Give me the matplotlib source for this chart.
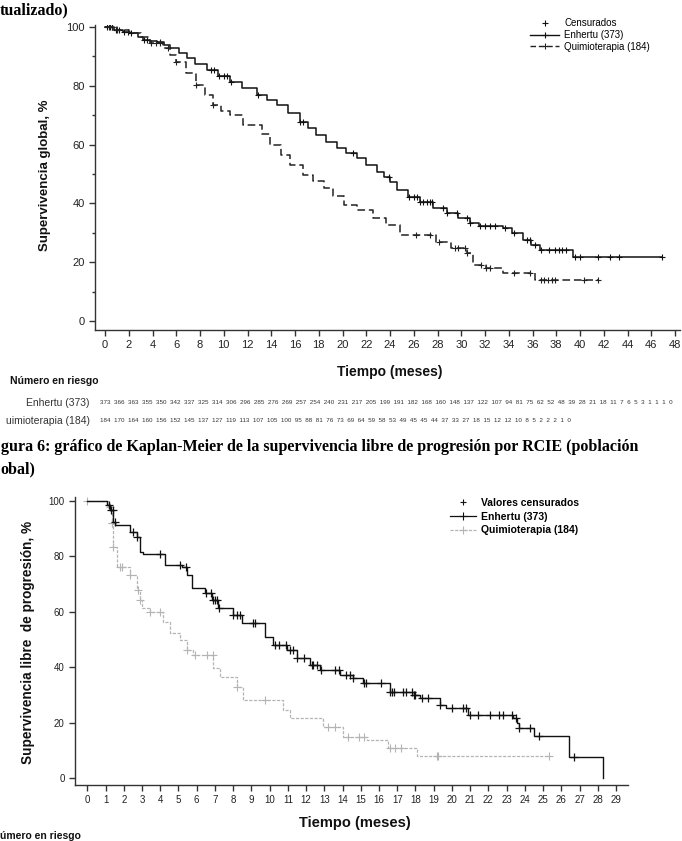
import matplotlib
matplotlib.use('Agg')
import matplotlib.pyplot as plt
import numpy as np
from matplotlib.lines import Line2D
from matplotlib import font_manager as fm

# ---------------- data ----------------
# Overall survival (top chart)
os_enh_t = [0, 0.8, 1.5, 2.1, 2.8, 3.2, 3.8, 4.4, 5.0, 5.5, 6.2, 6.9, 7.6, 8.6, 9.5, 10.5, 11.5,
            12.8, 13.6, 14.5, 15.4, 16.4, 17.1, 17.8, 18.6, 19.5, 20.3, 21.2, 22.0, 22.9, 23.5,
            24.0, 24.6, 25.5, 26.5, 27.6, 28.8, 29.7, 30.7, 31.5, 33.5, 34.3, 35.2, 35.9, 36.6,
            39.4, 46.9]
os_enh_s = [100, 99.0, 98.3, 97.8, 96.5, 95.6, 95.2, 95.0, 93.8, 92.7, 91.0, 89.3, 87.5, 85.4,
            83.5, 81.4, 79.3, 76.9, 75.3, 73.5, 70.8, 67.8, 65.6, 63.3, 61.0, 58.7, 57.0, 55.3,
            53.1, 50.8, 49.0, 47.4, 44.5, 42.3, 40.6, 38.5, 36.6, 35.0, 33.2, 32.3, 31.5, 29.8,
            27.6, 25.8, 24.1, 21.9, 21.9]
os_enh_cens = [0.2, 0.4, 0.6, 0.9, 1.2, 1.6, 1.9, 2.2, 3.3, 3.5, 4.6, 8.9, 9.2, 9.6, 10.0, 10.3,
               10.6, 12.9, 16.4, 16.7, 20.9, 23.9, 25.6, 26.0, 26.3, 26.5, 26.8, 27.1, 27.4, 27.5,
               28.5, 28.8, 29.6, 30.5, 30.7, 31.6, 32.0, 32.4, 32.8, 33.7, 34.4, 35.5, 35.8, 36.2,
               36.7, 37.4, 37.9, 38.2, 38.5, 38.8, 39.6, 40.0, 41.5, 42.5, 43.3, 46.9]

os_chemo_t = [0, 1.0, 2.0, 3.0, 3.8, 4.9, 5.5, 6.0, 6.8, 7.7, 8.4, 9.1, 9.8, 10.5, 11.6, 13.2,
              13.9, 14.8, 15.6, 16.7, 17.5, 18.4, 19.2, 20.1, 21.2, 22.6, 23.7, 24.8, 27.9, 29.1,
              30.5, 31.0, 32.1, 33.5, 36.2, 41.5]
os_chemo_s = [100, 99.0, 98.0, 96.5, 94.4, 92.7, 90.5, 88.2, 84.5, 80.3, 77.0, 73.5, 71.5, 70.1,
              66.7, 63.5, 59.9, 56.5, 53.1, 49.7, 47.5, 45.1, 42.5, 39.5, 37.8, 34.9, 32.7, 29.3,
              27.0, 24.7, 23.0, 19.0, 17.9, 16.3, 13.9, 13.9]
os_chemo_cens = [0.3, 0.6, 1.0, 3.9, 4.3, 4.6, 5.3, 6.0, 7.7, 9.1, 26.2, 27.4, 28.1, 29.5, 29.7,
                 30.3, 30.5, 31.7, 32.1, 32.4, 34.4, 35.8, 36.7, 37.0, 37.3, 37.6, 37.9, 40.3, 41.5]

# Progression-free survival (bottom chart)
pfs_enh_t = [0, 1.06, 1.25, 1.43, 1.52, 2.34, 2.7, 2.9, 3.07, 4.26, 5.18, 5.45, 5.73, 6.46, 6.82,
             7.19, 8.0, 8.47, 9.75, 10.2, 10.94, 11.49, 12.2, 12.77, 13.86, 14.6, 15.14, 16.6,
             17.9, 18.25, 19.35, 19.7, 20.9, 23.37, 23.56, 23.7, 24.5, 26.4, 28.3]
pfs_enh_s = [100, 98.6, 96.8, 92.5, 91.3, 88.9, 87.1, 81.7, 80.9, 76.9, 76.3, 73.3, 68.5, 66.7,
             64.3, 61.3, 58.8, 55.8, 51.0, 48.0, 46.2, 43.2, 40.8, 39.0, 37.2, 36.0, 34.2, 31.2,
             30.0, 28.8, 26.4, 25.2, 22.7, 21.5, 19.7, 17.9, 15.2, 7.7, 0]
pfs_enh_cens = [1.2, 1.3, 1.4, 1.5, 2.5, 2.7, 4.0, 5.1, 5.4, 6.5, 6.8, 6.9, 7.0, 7.1, 7.2, 8.0,
                8.2, 8.4, 9.1, 9.2, 10.3, 10.5, 10.9, 11.1, 11.3, 11.5, 11.9, 12.3, 12.4, 12.6,
                12.8, 13.6, 13.8, 14.2, 14.4, 14.6, 15.2, 15.3, 16.1, 16.6, 16.7, 16.8, 17.3,
                17.5, 17.8, 17.9, 18.0, 18.35, 18.7, 19.35, 20.0, 20.6, 20.75, 21.0, 21.45,
                22.1, 22.6, 22.8, 23.3, 23.5, 23.7, 24.3, 24.8, 26.7]

pfs_chemo_t = [0, 1.15, 1.34, 1.39, 1.43, 1.61, 2.34, 2.71, 2.89, 2.98, 3.44, 4.17, 4.54, 5.08,
               5.45, 5.81, 6.91, 7.28, 8.19, 8.56, 10.75, 11.12, 12.95, 14.04, 15.33, 16.5,
               18.07, 25.3]
pfs_chemo_s = [100, 97.9, 91.9, 86.5, 83.5, 76.3, 73.3, 67.9, 64.3, 61.3, 60.0, 56.4, 52.2, 49.8,
               46.2, 44.4, 39.6, 36.6, 33.0, 28.2, 24.5, 21.5, 18.5, 14.9, 13.7, 10.7, 7.9, 7.9]
pfs_chemo_cens = [0.0, 1.25, 1.34, 1.38, 1.43, 1.8, 1.89, 2.34, 2.8, 2.89, 3.44, 4.0, 5.46, 5.9,
                  6.55, 6.9, 8.2, 9.75, 13.2, 13.6, 14.3, 14.9, 15.2, 16.6, 16.9, 17.2, 19.17,
                  19.25, 25.3]

# Numbers at risk (top chart)
risk_enh = [373, 366, 363, 355, 350, 342, 337, 325, 314, 306, 296, 285, 276, 269, 257, 254, 240,
            231, 217, 205, 199, 191, 182, 168, 160, 148, 137, 122, 107, 94, 81, 75, 62, 52, 48,
            39, 28, 21, 18, 11, 7, 6, 5, 3, 1, 1, 1, 0]
risk_chemo = [184, 170, 164, 160, 156, 152, 145, 137, 127, 119, 113, 107, 105, 100, 95, 88, 81,
              76, 73, 69, 64, 59, 58, 53, 49, 45, 45, 44, 37, 33, 27, 18, 15, 12, 12, 10, 8, 5,
              2, 2, 2, 1, 0]

top_xticks = list(range(0, 49, 2))
bot_xticks = list(range(0, 30))
y_ticks = [0, 20, 40, 60, 80, 100]

# ---------------- fonts ----------------
names = {f.name for f in fm.fontManager.ttflist}
NARROW = 'Liberation Sans Narrow' if 'Liberation Sans Narrow' in names else 'Liberation Sans'
SANS = 'Liberation Sans'
SERIF = 'Liberation Serif'

W, H = 682, 841
fig = plt.figure(figsize=(W / 100, H / 100), dpi=100)


def fx(px):
    return px / W


def fy(py):
    return 1 - py / H


def step_value(ts, ss, t):
    i = np.searchsorted(np.asarray(ts), t, side='right') - 1
    return np.asarray(ss)[max(i, 0)]


def km(ax, ts, ss, cens, color, ls, lw, ms, mew, dashes=None):
    line, = ax.step(ts, ss, where='post', color=color, lw=lw, linestyle=ls)
    if dashes is not None:
        line.set_dashes(dashes)
    cy = [step_value(ts, ss, c) for c in cens]
    ax.plot(cens, cy, linestyle='none', marker='+', color=color, ms=ms, mew=mew)


def style_axis(ax, fs, font):
    for s in ['top', 'right']:
        ax.spines[s].set_visible(False)
    for s in ['left', 'bottom']:
        ax.spines[s].set_linewidth(1.0)
        ax.spines[s].set_color('#333333')
    ax.tick_params(direction='out', length=4, width=1, color='#333333', labelsize=fs,
                   labelcolor='#222222')
    for lab in ax.get_xticklabels() + ax.get_yticklabels():
        lab.set_fontfamily(font)


# ---------------- top chart (OS) ----------------
ax1 = fig.add_axes([fx(95), fy(330), 585 / W, 305 / H])
ax1.set_xlim(-0.842, 48.42)
ax1.set_ylim(-3.06, 100.68)
km(ax1, os_enh_t, os_enh_s, os_enh_cens, '#111111', '-', 1.1, 5, 0.8)
km(ax1, os_chemo_t, os_chemo_s, os_chemo_cens, '#222222', '--', 1.1, 5, 0.8, dashes=(5, 2.5))
ax1.set_xticks(top_xticks)
ax1.set_xticklabels([str(v) for v in top_xticks])
ax1.set_yticks(y_ticks)
ax1.set_yticks([10, 30, 50, 70, 90], minor=True)
style_axis(ax1, 8, NARROW)
ax1.tick_params(which='minor', direction='out', length=2.5, width=1, color='#333333')

h_c = Line2D([], [], linestyle='none', marker='+', color='#111111', ms=4, mew=0.8)
h_e = Line2D([], [], linestyle='-', marker='+', color='#111111', lw=1.0, ms=5, mew=0.8)
h_q = Line2D([], [], linestyle='--', marker='+', color='#222222', lw=1.0, ms=5, mew=0.8,
             dashes=(4, 2))
ax1.legend([h_c, h_e, h_q], ['Censurados', 'Enhertu (373)', 'Quimioterapia (184)'],
           loc='upper left', bbox_to_anchor=(fx(530), fy(18)), bbox_transform=fig.transFigure,
           frameon=False, prop={'family': NARROW, 'size': 7}, handlelength=3.0,
           handletextpad=0.5, labelspacing=0.2, borderpad=0, borderaxespad=0)

fig.text(fx(45), fy(175), 'Supervivencia global, %', rotation=90, ha='center', va='center',
         family=SANS, weight='bold', size=9.5, color='#111111')
fig.text(fx(390), fy(372), 'Tiempo (meses)', ha='center', va='center', family=SANS,
         weight='bold', size=10, color='#111111')
fig.text(fx(10), fy(381), 'Número en riesgo', ha='left', va='center', family=SANS,
         weight='bold', size=7.5, color='#111111')
fig.text(fx(90), fy(403), 'Enhertu (373)', ha='right', va='center', family=NARROW, size=7.5,
         color='#333333')
fig.text(fx(90), fy(421), 'uimioterapia (184)', ha='right', va='center', family=NARROW,
         size=7.5, color='#333333')

t1 = fig.text(fx(100), fy(403), '  '.join(str(v) for v in risk_enh), ha='left', va='center',
              family=NARROW, size=4.5, color='#333333')
t2 = fig.text(fx(100), fy(421), '  '.join(str(v) for v in risk_chemo), ha='left',
              va='center', family=NARROW, size=4.5, color='#333333')
fig.canvas.draw()
r = fig.canvas.get_renderer()
wext = t1.get_window_extent(r).width
scale = 570.0 / wext
t1.set_fontsize(4.5 * scale)
t2.set_fontsize(4.5 * scale)

# captions (serif bold, partially cut at the page edge)
fig.text(fx(0), fy(10), 'tualizado)', ha='left', va='center', family=SERIF, weight='bold',
         size=11.5, color='black')
fig.text(fx(1), fy(447), 'gura 6: gráfico de Kaplan-Meier de la supervivencia libre de '
         'progresión por RCIE (población', ha='left', va='center', family=SERIF,
         weight='bold', size=11.5, color='black')
fig.text(fx(0), fy(469), 'obal)', ha='left', va='center', family=SERIF, weight='bold',
         size=11.5, color='black')

# ---------------- bottom chart (PFS) ----------------
ax2 = fig.add_axes([fx(75), fy(785), 553 / W, 288 / H])
ax2.set_xlim(-0.675, 29.66)
ax2.set_ylim(-2.53, 101.4)
km(ax2, pfs_chemo_t, pfs_chemo_s, pfs_chemo_cens, '#b4b4b4', '--', 0.9, 6, 0.8,
   dashes=(2.5, 1.2))
km(ax2, pfs_enh_t, pfs_enh_s, pfs_enh_cens, '#111111', '-', 1.0, 6, 0.9)
ax2.set_xticks(bot_xticks)
ax2.set_xticklabels([str(v) for v in bot_xticks])
ax2.set_yticks(y_ticks)
style_axis(ax2, 7, NARROW)

g_c = Line2D([], [], linestyle='none', marker='+', color='#111111', ms=5, mew=0.8)
g_e = Line2D([], [], linestyle='-', marker='+', color='#111111', lw=0.9, ms=6, mew=0.8)
g_q = Line2D([], [], linestyle='--', marker='+', color='#b4b4b4', lw=0.9, ms=6, mew=0.8,
             dashes=(2.5, 1.2))
ax2.legend([g_c, g_e, g_q], ['Valores censurados', 'Enhertu (373)', 'Quimioterapia (184)'],
           loc='upper left', bbox_to_anchor=(fx(450), fy(498)), bbox_transform=fig.transFigure,
           frameon=False, prop={'family': SANS, 'size': 7.5, 'weight': 'bold'},
           handlelength=2.5, handletextpad=0.5, labelspacing=0.35, borderpad=0,
           borderaxespad=0)

fig.text(fx(28), fy(642), 'Supervivencia libre  de progresión, %', rotation=90, ha='center',
         va='center', family=SANS, weight='bold', size=9.8, color='#111111')
fig.text(fx(355), fy(823), 'Tiempo (meses)', ha='center', va='center', family=SANS,
         weight='bold', size=10.5, color='#111111')
fig.text(fx(0), fy(836), 'úmero en riesgo', ha='left', va='center', family=SANS,
         weight='bold', size=7.5, color='#111111')

fig.savefig('out.png', dpi=100)
